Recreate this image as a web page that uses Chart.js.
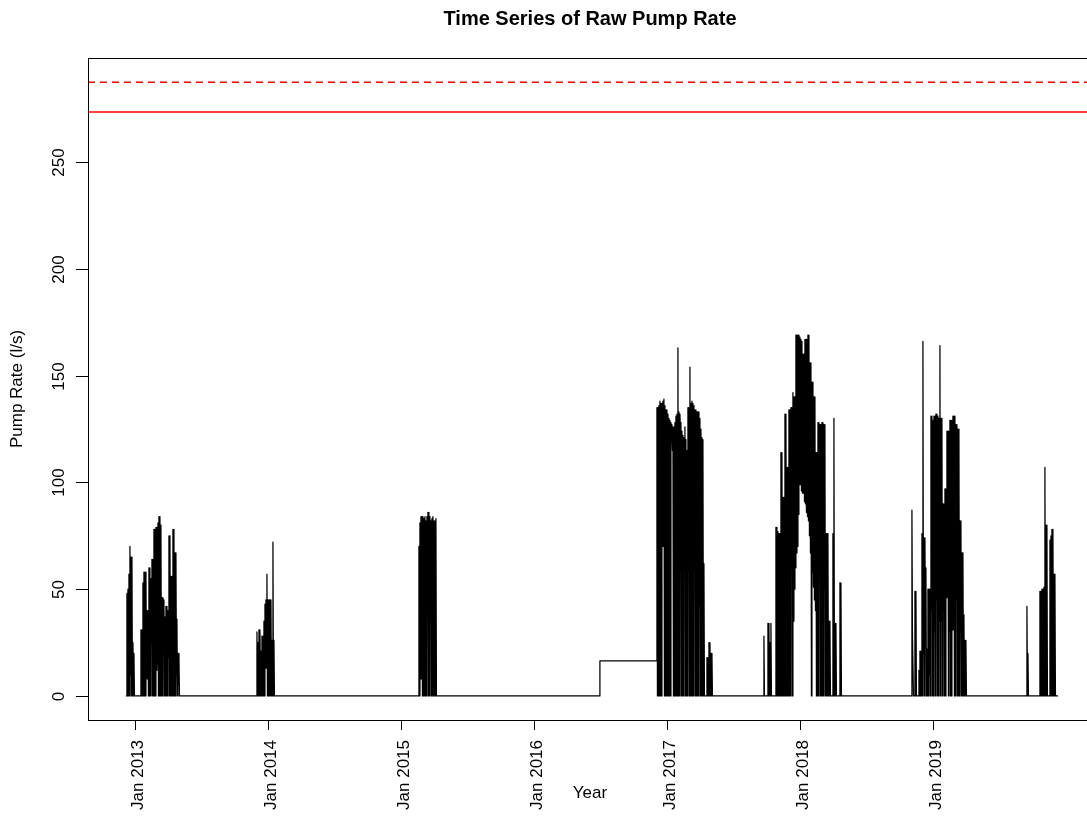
<!DOCTYPE html>
<html>
<head>
<meta charset="utf-8">
<script src="https://cdn.jsdelivr.net/npm/chart.js@4.4.1/dist/chart.umd.min.js"></script>
<style>
html,body{margin:0;padding:0;overflow:hidden;background:#ffffff}
canvas{display:block}
</style>
</head>
<body>
<canvas id="c" width="1100" height="816"></canvas>
<script>
// ---------- text ----------
const chartTitle = 'Time Series of Raw Pump Rate';
const xTitle = 'Year';
const yTitle = 'Pump Rate (l/s)';

// ---------- axes ----------
const xTickValues = [2013, 2014, 2015, 2016, 2017, 2018, 2019];
const xTickLabels = ['Jan 2013', 'Jan 2014', 'Jan 2015', 'Jan 2016', 'Jan 2017', 'Jan 2018', 'Jan 2019'];
const yTickValues = [0, 50, 100, 150, 200, 250];
const xRange = [2012.647, 2020.196];
const yRange = [-11.24, 298.7];

// ---------- reference levels (l/s) ----------
const thresholdSolid = 273.4;
const thresholdDashed = 287.4;

// ---------- series timing (decimal years) ----------
const seriesStart = 2012.932;
const seriesEnd = 2019.940;
const sampleStep = 1 / 133;          // time between samples (about 2.7 days)
const plateauStart = 2016.496;       // constant-rate period before the 2017 season
const plateauLevel = 16.4;

// start time of each pumping season
const burstStarts = [2012.9398, 2013.9173, 2015.1353, 2016.9248, 2017.7293, 2018.8346, 2019.7068, 2019.8045];

// each entry: [peak, trough] pump rate for successive samples
const burst2013 = [[48,0],[50,0],[57,0],[70,10],[65,0],[65,0],[25,0],[20,0],[0,0],[0,0],[0,0],[0,0],[0,0],[0,0],
  [31,0],[31,0],[53,0],[58,0],[58,0],[58,8],[40,8],[40,0],[60,0],[60,0],[55,25],[64,0],[64,0],[78,0],[78,0],
  [79,12],[79,15],[81,0],[84,0],[84,0],[80,0],[46,0],[46,20],[45,0],[37,0],[42,0],[42,0],[40,18],[75,0],[75,0],
  [56,0],[56,0],[78,0],[78,0],[67,0],[67,10],[36,0],[20,5],[20,0]];
const burst2014 = [[30,0],[25,0],[31,0],[31,0],[21,0],[28,0],[28,0],[35,0],[43,13],[45,13],[57,0],[45,0],[45,0],
  [45,0],[45,0],[26,0],[72,0],[26,0]];
const burst2015 = [[70,0],[81,8],[84,8],[84,0],[84,0],[83,0],[84,0],[82,0],[84,48],[86,0],[86,0],[84,54],[82,0],
  [83,0],[84,0],[82,0],[82,0],[83,0]];
const burst2017 = [[135,0],[135,0],[136,0],[138,0],[137,0],[137,70],[138,70],[139,0],[136,0],[134,0],[134,0],
  [132,0],[130,0],[129,0],[128,119],[127,115],[126,0],[126,0],[128,0],[131,0],[132,0],[163,0],[133,0],[132,123],
  [128,0],[124,0],[122,0],[121,98],[126,0],[120,0],[115,0],[135,59],[135,0],[154,0],[137,0],[138,0],[137,0],
  [136,78],[134,0],[134,0],[133,0],[133,0],[133,42],[130,0],[125,0],[121,0],[120,0],[62,0],[0,0],[0,0],
  [18,0],[18,0],[25,0],[25,0],[20,0],[20,0]];
const burst2018 = [[28,0],[0,0],[0,0],[0,0],[34,0],[34,0],[25,0],[34,0],[0,0],[0,0],[0,0],[0,0],[79,0],[79,0],
  [77,0],[76,0],[76,0],[114,0],[114,0],[93,0],[93,0],[132,0],[132,0],[107,0],[107,0],[134,0],[134,0],[135,60],
  [135,0],[142,35],[140,50],[140,60],[169,67],[169,70],[169,85],[169,99],[168,99],[167,96],[166,95],[160,95],
  [160,91],[167,90],[167,86],[167,84],[169,82],[169,75],[156,67],[156,0],[147,58],[147,51],[140,45],[140,40],
  [114,0],[114,0],[128,0],[128,73],[127,0],[127,0],[128,0],[128,0],[127,50],[127,0],[76,0],[76,0],[76,0],
  [35,0],[35,0],[0,0],[0,0],[76,0],[130,0],[34,0],[34,0],[0,0],[0,0],[0,0],[53,0],[53,0],[0,0]];
const burst2019 = [[0,0],[87,30],[30,0],[0,0],[49,0],[49,0],[0,0],[0,0],[12,0],[21,0],[21,0],[76,0],[166,20],
  [74,0],[74,30],[60,0],[22,0],[50,0],[50,10],[50,0],[131,40],[131,0],[129,0],[131,30],[131,0],[132,45],[132,0],
  [131,0],[130,35],[164,0],[130,35],[130,0],[90,40],[90,0],[97,0],[97,46],[124,46],[124,0],[124,30],[129,0],
  [129,0],[129,31],[131,31],[131,0],[131,0],[127,45],[127,0],[125,0],[125,0],[82,30],[82,0],[67,0],[67,0],
  [38,0],[26,0],[26,0]];
const burstLateA = [[42,0],[20,0]];
const burstLateB = [[49,0],[49,0],[50,0],[50,0],[51,0],[107,0],[80,0],[80,0],[0,0],[0,0],[73,0],[75,0],[78,0],
  [78,0],[57,0],[57,0]];

const bursts = [burst2013, burst2014, burst2015, burst2017, burst2018, burst2019, burstLateA, burstLateB];

// ---------- build the series ----------
const series = [{x: seriesStart, y: 0}];
let prevEnd = seriesStart;
bursts.forEach((b, i) => {
  const t0 = burstStarts[i];
  let base = 0;
  if (plateauStart > prevEnd && plateauStart < t0) {
    series.push({x: plateauStart, y: 0}, {x: plateauStart, y: plateauLevel});
    base = plateauLevel;
  }
  series.push({x: t0 - sampleStep / 2, y: base});
  b.forEach(([hi, lo], j) => {
    series.push({x: t0 + j * sampleStep, y: hi});
    series.push({x: t0 + (j + 0.5) * sampleStep, y: lo});
  });
  prevEnd = t0 + b.length * sampleStep;
});
series.push({x: seriesEnd, y: 0});

const FONT = '"Liberation Sans", Arial, Helvetica, sans-serif';

const decor = {
  id: 'decor',
  afterDraw(chart) {
    const ctx = chart.ctx;
    const a = chart.chartArea;
    const xs = chart.scales.x, ys = chart.scales.y;
    ctx.save();
    ctx.strokeStyle = '#000';
    ctx.fillStyle = '#000';
    ctx.lineWidth = 1;
    // box
    ctx.strokeRect(Math.round(a.left) + 0.5, Math.round(a.top) + 0.5,
      Math.round(a.right - a.left), Math.round(a.bottom - a.top));
    // y ticks + labels
    ctx.font = '17px ' + FONT;
    yTickValues.forEach(v => {
      const py = Math.round(ys.getPixelForValue(v)) + 0.5;
      ctx.beginPath();
      ctx.moveTo(a.left - 12, py);
      ctx.lineTo(Math.round(a.left) + 0.5, py);
      ctx.stroke();
      ctx.save();
      ctx.translate(a.left - 24, py);
      ctx.rotate(-Math.PI / 2);
      ctx.textAlign = 'center';
      ctx.textBaseline = 'alphabetic';
      ctx.fillText(String(v), 0, 0);
      ctx.restore();
    });
    // x ticks + labels
    xTickValues.forEach((v, i) => {
      const px = Math.round(xs.getPixelForValue(v)) + 0.5;
      ctx.beginPath();
      ctx.moveTo(px, Math.round(a.bottom) + 0.5);
      ctx.lineTo(px, a.bottom + 10);
      ctx.stroke();
      ctx.save();
      ctx.translate(px + 7, a.bottom + 20);
      ctx.rotate(-Math.PI / 2);
      ctx.textAlign = 'right';
      ctx.textBaseline = 'alphabetic';
      ctx.fillText(xTickLabels[i], 0, 0);
      ctx.restore();
    });
    const cx = (a.left + a.right) / 2;
    // title
    ctx.font = 'bold 20px ' + FONT;
    ctx.textAlign = 'center';
    ctx.textBaseline = 'alphabetic';
    ctx.fillText(chartTitle, cx, 25);
    // axis titles
    ctx.font = '17px ' + FONT;
    ctx.fillText(xTitle, cx, 798);
    ctx.save();
    ctx.translate(22, (a.top + a.bottom) / 2);
    ctx.rotate(-Math.PI / 2);
    ctx.fillText(yTitle, 0, 0);
    ctx.restore();
    ctx.restore();
  }
};

new Chart(document.getElementById('c'), {
  type: 'line',
  data: {
    datasets: [
      {
        label: 'Pump rate',
        data: series,
        borderColor: '#000000',
        borderWidth: 1.25,
        borderJoinStyle: 'round',
        pointRadius: 0,
        tension: 0,
        fill: false
      },
      {
        label: 'Threshold',
        data: [{x: xRange[0], y: thresholdSolid}, {x: xRange[1], y: thresholdSolid}],
        borderColor: '#FF0000',
        borderWidth: 1.5,
        pointRadius: 0,
        fill: false
      },
      {
        label: 'Upper threshold',
        data: [{x: xRange[0], y: thresholdDashed}, {x: xRange[1], y: thresholdDashed}],
        borderColor: '#FF0000',
        borderWidth: 1.5,
        borderDash: [7, 5],
        pointRadius: 0,
        fill: false
      }
    ]
  },
  options: {
    responsive: false,
    devicePixelRatio: 1,
    animation: false,
    layout: {padding: {left: 88, top: 58, right: 8, bottom: 96}},
    scales: {
      x: {type: 'linear', min: xRange[0], max: xRange[1], display: false},
      y: {type: 'linear', min: yRange[0], max: yRange[1], display: false}
    },
    plugins: {
      legend: {display: false},
      tooltip: {enabled: false},
      title: {display: false}
    }
  },
  plugins: [decor]
});
</script>
</body>
</html>
